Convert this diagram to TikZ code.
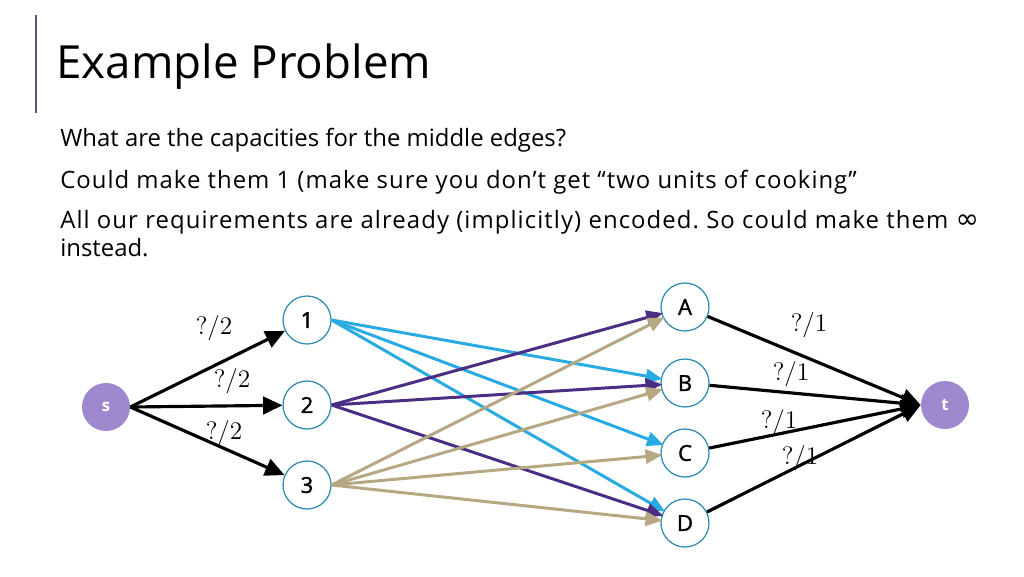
\documentclass[tikz,border=0pt]{standalone}
\usepackage{fontspec}
\setmainfont{Open Sans}
\newfontfamily\symfont{DejaVu Sans}
\usetikzlibrary{arrows.meta}
\definecolor{barcol}{HTML}{5E4F8E}
\definecolor{stfill}{HTML}{9E89CF}
\definecolor{ringcol}{HTML}{2E8AB5}
\definecolor{lblue}{HTML}{29ABE2}
\definecolor{dpurp}{HTML}{4B2E83}
\definecolor{tancol}{HTML}{B5A883}
\tikzset{
  vert/.style={circle,draw=ringcol,line width=0.7pt,fill=white,minimum size=0.96cm,inner sep=0pt,font=\fontsize{12.5}{14}\selectfont\addfontfeatures{FakeBold=1.5}},
  term/.style={circle,fill=stfill,minimum size=0.96cm,inner sep=0pt,text=white,font=\fontsize{9.5}{11}\selectfont\bfseries},
  outer/.style={line width=1.8pt,-{Triangle[length=11pt,width=10pt]}},
  mid/.style={line width=1.7pt,-{Triangle[length=9.5pt,width=8pt]},shorten >=-1pt},
  caplab/.style={font=\fontsize{13.5}{15}\selectfont},
  body/.style={anchor=base west,inner sep=0pt,font=\fontsize{13.6}{16}\selectfont\frenchspacing}
}
\begin{document}
\begin{tikzpicture}[x=0.02cm,y=-0.02cm]
\useasboundingbox (0,0) rectangle (1024,576);
% title bar
\draw[barcol,line width=1pt] (36,15) -- (36,113);
\node[anchor=base west,inner sep=0pt,font=\fontsize{26}{30}\selectfont] (title) at (56,78) {Example Problem};
\node[body] (l1) at (60,146) {What are the capacities for the middle edges?};
\node[body] (l2) at (60,188) {\addfontfeatures{LetterSpace=4.2}Could make them 1 (make sure you don’t get “two units of cooking”};
\node[body] (l3) at (60,228) {\addfontfeatures{LetterSpace=4.5}All our requirements are already (implicitly) encoded. So could make them {\symfont\fontsize{16}{16}\selectfont ∞}};
\node[body] (l4) at (60,256) {instead.};
% nodes
\node[term] (s) at (106,407) {s};
\node[term] (t) at (945,405) {t};
\node[vert] (n1) at (307,320) {1};
\node[vert] (n2) at (307,405) {2};
\node[vert] (n3) at (307,485) {3};
\node[vert] (A) at (685,307) {A};
\node[vert] (B) at (685,383) {B};
\node[vert] (C) at (685,453) {C};
\node[vert] (D) at (685,523) {D};
% source edges
\draw[outer] (s.east) -- (n1);
\draw[outer] (s.east) -- (n2);
\draw[outer] (s.east) -- (n3);
% sink edges
\draw[outer] (A) -- (t.west);
\draw[outer] (B) -- (t.west);
\draw[outer] (C) -- (t.west);
\draw[outer] (D) -- (t.west);
% middle edges
\draw[mid,lblue] (n1.east) -- (B);
\draw[mid,lblue] (n1.east) -- (C);
\draw[mid,lblue] (n1.east) -- (D);
\draw[mid,dpurp] (n2.east) -- (A);
\draw[mid,dpurp] (n2.east) -- (B);
\draw[mid,dpurp] (n2.east) -- (D);
\draw[mid,tancol] (n3.east) -- (A);
\draw[mid,tancol] (n3.east) -- (B);
\draw[mid,tancol] (n3.east) -- (C);
\draw[mid,tancol] (n3.east) -- (D);
% capacity labels
\node[caplab] (c1) at (214,328) {$?/2$};
\node[caplab] (c2) at (232,381) {$?/2$};
\node[caplab] (c3) at (224,433) {$?/2$};
\node[caplab] (cA) at (809,325) {$?/1$};
\node[caplab] (cB) at (791,374) {$?/1$};
\node[caplab] (cC) at (779,422) {$?/1$};
\node[caplab] (cD) at (800,458) {$?/1$};
\end{tikzpicture}
\end{document}
